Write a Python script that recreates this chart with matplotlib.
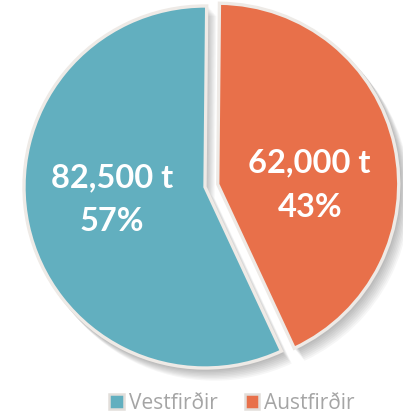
import matplotlib
matplotlib.use("Agg")
import matplotlib.pyplot as plt
from matplotlib.patches import Wedge
import numpy as np

categories = ["Vestfirðir", "Austfirðir"]
values = [82500, 62000]
colors = ["#62AFBF", "#E8704A"]
explode = [0.0, 0.072]

W, H = 403, 415
fig = plt.figure(figsize=(W / 100, H / 100), dpi=100)
ax = fig.add_axes([0, 0, 1, 1])

cx, cy, R = 205, H - 187, 181
total = sum(values)

def fmt(pct):
    v = pct * total / 100.0
    return f"{v:,.0f} t\n{pct:.0f}%"

wedges, texts, autotexts = ax.pie(
    values, colors=colors, explode=[e * R for e in explode], startangle=-65,
    counterclock=False, center=(cx, cy), radius=R, autopct=fmt, pctdistance=0.5,
    wedgeprops=dict(edgecolor="#EEEAE6", linewidth=2.4, zorder=3),
    textprops=dict(color="white", fontsize=23.5, fontweight="bold", family="Lato",
                   linespacing=1.62),
    frame=True,
)
ax.set_xlim(0, W)
ax.set_ylim(0, H)
ax.set_aspect("equal")
ax.axis("off")

# label placement relative to each wedge's centre
offsets = [(-93, -13), (92, -1)]
for w, t, (dx, dy) in zip(wedges, autotexts, offsets):
    t.set_position((w.center[0] + dx, w.center[1] + dy))
    t.set_zorder(5)

# soft drop shadow under each wedge
for w in wedges:
    c = w.center
    for k in range(1, 9):
        sh = Wedge((c[0] + 1.2 * k, c[1] - 1.4 * k), w.r + 1.5, w.theta1, w.theta2,
                   facecolor="black", edgecolor="none", alpha=0.035, zorder=2)
        ax.add_patch(sh)

# legend
handles = [plt.Rectangle((0, 0), 1, 1, facecolor=c, edgecolor="#E2DEDA", linewidth=1.8) for c in colors]
leg = fig.legend(handles, categories, loc="center", bbox_to_anchor=(232 / W, 1 - 403 / H),
                 ncol=2, frameon=False, handlelength=0.7, handleheight=0.7,
                 handletextpad=0.25, columnspacing=1.3,
                 prop=dict(family="Open Sans", size=15))
for t in leg.get_texts():
    t.set_color("#A5A5A5")

fig.savefig("out.png", dpi=100)
